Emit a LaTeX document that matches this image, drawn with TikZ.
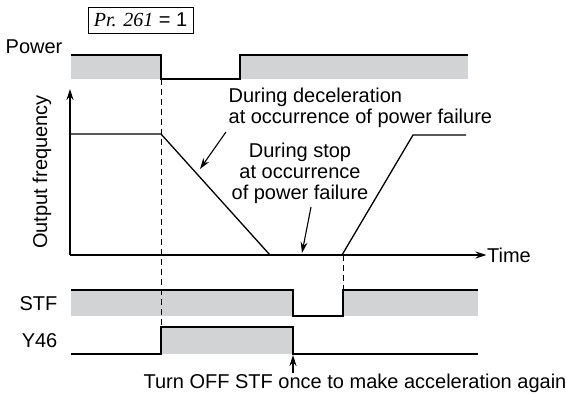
\documentclass[tikz,border=0pt]{standalone}
\usepackage{fontspec}
\setmainfont{Liberation Sans}
\newfontfamily\prfont{Liberation Serif}
\usepackage{tikz}
\usetikzlibrary{arrows.meta,positioning}
\definecolor{sigfill}{RGB}{210,211,213}

\begin{document}
\begin{tikzpicture}[
    x=1pt, y=-1pt,
    font=\fontsize{20}{21}\selectfont,
    line width=1.3pt,
    sig/.style={line width=1.3pt, line join=miter},
    band/.style={fill=sigfill, draw=none},
    guide/.style={line width=0.9pt, dash pattern=on 6pt off 4pt},
    note/.style={align=left, inner sep=0pt},
    pointer/.style={-{Stealth[length=11pt,width=7pt]}, line width=1.1pt},
    axis/.style={-{Stealth[length=11pt,width=7pt]}, line width=1.3pt}
]
\useasboundingbox (0,0) rectangle (566,394);

% parameter box
\node[draw, line width=1pt, inner sep=3pt, minimum width=105pt, minimum height=26pt] (param) at (140.5,20)
    {{\prfont\itshape Pr. 261} = 1};

% power signal
\node[anchor=east, inner sep=0pt] (powerlbl) at (63,47) {Power};
\fill[band] (71,56) rectangle (161,79);
\fill[band] (240,56) rectangle (468,79);
\draw[sig] (71,55) -- (161,55) -- (161,79) -- (240,79) -- (240,55) -- (468,55);

% output frequency chart
\coordinate (orig) at (70,255);
\node[inner sep=0pt] (timelbl) at (509,255) {Time};
\node[rotate=90, inner sep=0pt] (freqlbl) at (42,172) {Output frequency};
\draw[axis] (orig) -- (70,89);
\draw[axis] (orig) -- (timelbl.west);
\draw[sig] (70,134) -- (161,134) -- (270,255);
\draw[sig] (342,255) -- (413,135) -- (466,135);

\node[note, anchor=north west] (decel) at (228,87)
    {During deceleration\\at occurrence of power failure};
\node[align=center, inner sep=0pt] (stop) at (300,173)
    {During stop\\at occurrence\\of power failure};
\coordinate (decelTip) at (200,169);
\coordinate (stopTip) at (302,253);
\draw[pointer] ([xshift=-2pt,yshift=-4pt]decel.south west) -- (decelTip);
\draw[pointer] (311,207) -- (stopTip);

% STF signal
\node[anchor=east, inner sep=0pt] (stflbl) at (58,304) {STF};
\fill[band] (71,290) rectangle (293,316);
\fill[band] (343,290) rectangle (478,316);
\draw[sig] (71,290) -- (293,290) -- (293,316) -- (343,316) -- (343,290) -- (478,290);

% Y46 signal
\node[anchor=east, inner sep=0pt] (ylbl) at (58,341) {Y46};
\fill[band] (161,327) rectangle (293,354);
\draw[sig] (71,354) -- (161,354) -- (161,327) -- (293,327) -- (293,354) -- (478,354);

% guides
\draw[guide] (161,79) -- (161,327);
\draw[guide] (343,255) -- (343,290);

% restart note
\node[inner sep=0pt] (turnoff) at (355,383) {Turn OFF STF once to make acceleration again};
\coordinate (yoff) at (293,355);
\draw[pointer] (293,373) -- (yoff);
\end{tikzpicture}
\end{document}
